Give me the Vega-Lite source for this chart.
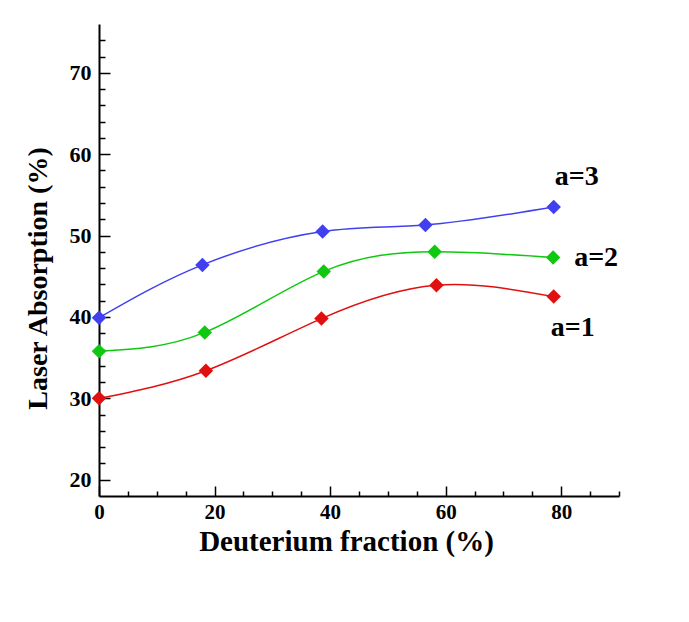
{
  "$schema": "https://vega.github.io/schema/vega-lite/v6.json",
  "width": 520,
  "height": 472,
  "autosize": "none",
  "padding": {"left": 99, "top": 24, "right": 70, "bottom": 126},
  "background": "white",
  "config": {"view": {"stroke": null}, "font": "Liberation Serif"},
  "data": {
    "values": [
      {"series": "a=1", "deuterium": 0, "absorption": 30.0},
      {"series": "a=1", "deuterium": 18.5, "absorption": 33.4},
      {"series": "a=1", "deuterium": 38.5, "absorption": 39.8},
      {"series": "a=1", "deuterium": 58.4, "absorption": 43.9},
      {"series": "a=1", "deuterium": 78.7, "absorption": 42.5},
      {"series": "a=2", "deuterium": 0, "absorption": 35.8},
      {"series": "a=2", "deuterium": 18.3, "absorption": 38.1},
      {"series": "a=2", "deuterium": 38.9, "absorption": 45.6},
      {"series": "a=2", "deuterium": 58.1, "absorption": 48.0},
      {"series": "a=2", "deuterium": 78.6, "absorption": 47.3},
      {"series": "a=3", "deuterium": 0, "absorption": 39.9},
      {"series": "a=3", "deuterium": 17.9, "absorption": 46.4},
      {"series": "a=3", "deuterium": 38.7, "absorption": 50.5},
      {"series": "a=3", "deuterium": 56.5, "absorption": 51.3},
      {"series": "a=3", "deuterium": 78.7, "absorption": 53.5}
    ]
  },
  "encoding": {
    "x": {
      "field": "deuterium",
      "type": "quantitative",
      "scale": {"domain": [0, 90], "nice": false, "zero": false},
      "axis": {
        "values": [0, 5, 10, 15, 20, 25, 30, 35, 40, 45, 50, 55, 60, 65, 70, 75, 80, 85, 90],
        "tickSize": {"condition": {"test": "datum.value % 20 === 0", "value": -10}, "value": -5},
        "labelExpr": "datum.value % 20 === 0 ? datum.label : ''",
        "labelOverlap": false,
        "labelFlush": false,
        "grid": false,
        "domainColor": "black",
        "domainWidth": 2,
        "tickColor": "black",
        "tickWidth": 1.5,
        "labelFont": "Liberation Serif",
        "labelFontWeight": "bold",
        "labelFontSize": 21,
        "labelColor": "black",
        "labelPadding": 15,
        "title": "Deuterium fraction (%)",
        "titleFont": "Liberation Serif",
        "titleFontWeight": "bold",
        "titleFontSize": 29,
        "titleColor": "black",
        "titlePadding": 0,
        "titleX": 247
      }
    },
    "y": {
      "field": "absorption",
      "type": "quantitative",
      "scale": {"domain": [18, 76], "nice": false, "zero": false},
      "axis": {
        "values": [20, 22, 24, 26, 28, 30, 32, 34, 36, 38, 40, 42, 44, 46, 48, 50, 52, 54, 56, 58, 60, 62, 64, 66, 68, 70, 72, 74],
        "tickSize": {"condition": {"test": "datum.value % 10 === 0", "value": -11}, "value": -6},
        "labelExpr": "datum.value % 10 === 0 ? datum.label : ''",
        "labelOverlap": false,
        "labelFlush": false,
        "grid": false,
        "domainColor": "black",
        "domainWidth": 2,
        "tickColor": "black",
        "tickWidth": 1.5,
        "labelFont": "Liberation Serif",
        "labelFontWeight": "bold",
        "labelFontSize": 22,
        "labelColor": "black",
        "labelPadding": 19,
        "title": "Laser Absorption (%)",
        "titleFont": "Liberation Serif",
        "titleFontWeight": "bold",
        "titleFontSize": 28,
        "titleColor": "black",
        "titlePadding": 17,
        "titleY": 254
      }
    },
    "color": {
      "field": "series",
      "type": "nominal",
      "scale": {"domain": ["a=1", "a=2", "a=3"], "range": ["#e01010", "#10c810", "#4040f0"]},
      "legend": null
    }
  },
  "layer": [
    {"mark": {"type": "line", "interpolate": "natural", "strokeWidth": 1.5}},
    {"mark": {"type": "point", "shape": "diamond", "filled": true, "size": 210, "opacity": 1}},
    {
      "transform": [{"filter": "datum.series === 'a=3' && datum.deuterium > 70"}],
      "mark": {"type": "text", "dx": 23, "dy": -30, "font": "Liberation Serif", "fontWeight": "bold", "fontSize": 28, "align": "center", "baseline": "middle"},
      "encoding": {"text": {"field": "series"}, "color": {"value": "black"}}
    },
    {
      "transform": [{"filter": "datum.series === 'a=2' && datum.deuterium > 70"}],
      "mark": {"type": "text", "dx": 43, "dy": 0, "font": "Liberation Serif", "fontWeight": "bold", "fontSize": 28, "align": "center", "baseline": "middle"},
      "encoding": {"text": {"field": "series"}, "color": {"value": "black"}}
    },
    {
      "transform": [{"filter": "datum.series === 'a=1' && datum.deuterium > 70"}],
      "mark": {"type": "text", "dx": 19, "dy": 31, "font": "Liberation Serif", "fontWeight": "bold", "fontSize": 28, "align": "center", "baseline": "middle"},
      "encoding": {"text": {"field": "series"}, "color": {"value": "black"}}
    }
  ]
}
